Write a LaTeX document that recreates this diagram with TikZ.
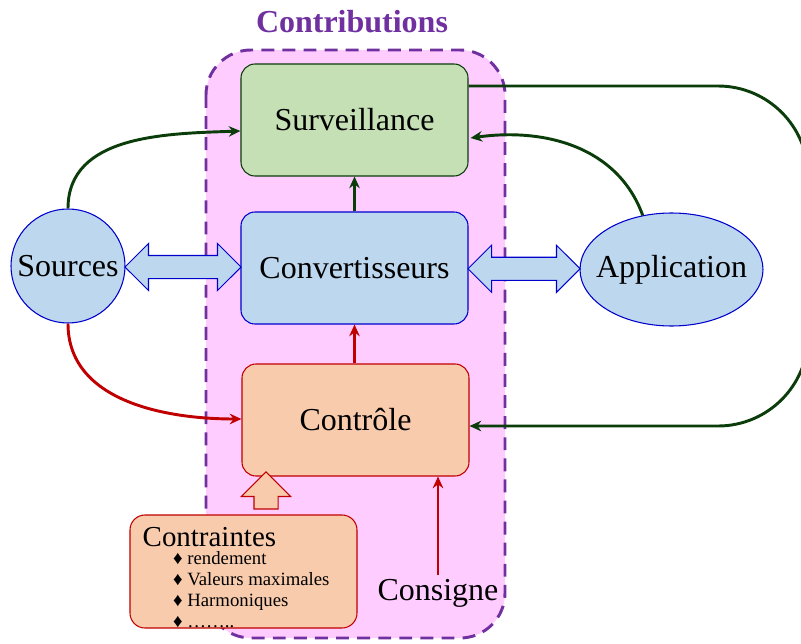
\documentclass[tikz,border=0pt]{standalone}
\usepackage{fontspec}
\setmainfont{Liberation Serif}
\usetikzlibrary{shapes.arrows,shapes.geometric,arrows.meta,calc}

\definecolor{violet}{HTML}{7030A0}
\definecolor{rose}{HTML}{FFCCFF}
\definecolor{vertfond}{HTML}{C5E0B4}
\definecolor{vertfonce}{HTML}{0B3D0B}
\definecolor{bleufond}{HTML}{BDD7EE}
\definecolor{bleu}{HTML}{0000CC}
\definecolor{orangefond}{HTML}{F8CBAD}
\definecolor{rouge}{HTML}{C00000}

\begin{document}
\begin{tikzpicture}[x=0.03cm,y=-0.03cm,
  grand/.style={font=\fontsize{27.3}{30}\selectfont},
  bloc/.style={grand, draw, line width=0.9pt, rounded corners=0.42cm,
    minimum width=6.81cm, minimum height=3.36cm},
  lien/.style={line width=2.5pt, -{Stealth[length=10pt,width=9pt]}},
  dfleche/.style={double arrow, draw=bleu, fill=bleufond, line width=0.9pt,
    inner xsep=0pt, inner ysep=0.33cm, double arrow head extend=0.36cm}]
\useasboundingbox (0,0) rectangle (801,644);

% zone des contributions
\draw[violet, line width=2.5pt, dash pattern=on 11pt off 7pt, fill=rose,
  rounded corners=1.35cm] (206,50) rectangle (505,638);
\node[violet, font=\fontsize{27.3}{30}\selectfont\bfseries] (titre) at (352,22) {Contributions};

% blocs
\node[bloc, draw=vertfonce, fill=vertfond] (surv) at (354.5,120) {Surveillance};
\node[bloc, draw=bleu, fill=bleufond] (conv) at (354.5,268) {Convertisseurs};
\node[bloc, draw=rouge, fill=orangefond] (contr) at (355.5,420) {Contrôle};
\node[grand, circle, draw=bleu, fill=bleufond, line width=0.9pt, inner sep=0pt,
  minimum size=3.42cm] (src) at (68,266) {Sources};
\node[grand, ellipse, draw=bleu, fill=bleufond, line width=0.9pt, inner sep=-0.5cm,
  minimum width=5.49cm, minimum height=3.39cm] (app) at (671.5,269.5) {Application};
\node[draw=rouge, fill=orangefond, line width=0.9pt, rounded corners=0.45cm,
  minimum width=6.81cm, minimum height=3.39cm] (cons) at (243.5,571.5) {};
\node[anchor=north west, align=left, inner sep=0pt,
  font=\fontsize{16}{18}\selectfont] (constxt) at ($(cons.north west)+(13,13)$)
  {{\fontsize{24.7}{18}\selectfont Contraintes}\\[-2.8pt]
   \hspace*{26pt}♦ rendement\\
   \hspace*{26pt}♦ Valeurs maximales\\
   \hspace*{26pt}♦ Harmoniques\\
   \hspace*{26pt}♦ ……..};
\node[grand] (consigne) at (438,593) {Consigne};

% fleches doubles
\node[dfleche, minimum height=3.48cm] (srcconv) at ($(src.east)!0.5!(conv.west)$) {};
\node[dfleche, minimum height=3.36cm] (convapp) at ($(conv.east)!0.5!(app.west)$) {};
\node[single arrow, rotate=90, draw=rouge, fill=orangefond, line width=0.9pt,
  inner xsep=0pt, inner ysep=0.345cm, single arrow head extend=0.375cm,
  minimum height=1.11cm] (contfl) at (266,496.5) {};

% liaisons
\draw[lien, vertfonce] (conv.north) -- (surv.south);
\draw[lien, rouge] (contr.north -| conv.north) -- (conv.south);
\draw[lien, rouge] (consigne.north) -- (consigne.north |- contr.south);
\draw[lien, vertfonce] (src.north) to[out=90, in=182] ($(surv.west)+(0,11)$);
\draw[lien, rouge] (src.south) to[out=-90, in=180] ($(contr.west)+(0,-1)$);
\draw[lien, vertfonce] (app.118) to[out=110, in=8] ($(surv.east)+(2,18)$);
\draw[lien, vertfonce, rounded corners=2.7cm] ($(surv.east)+(0,-34)$) -- (808,86)
  -- (808,426) -- ($(contr.east)+(0,6)$);
\end{tikzpicture}
\end{document}
